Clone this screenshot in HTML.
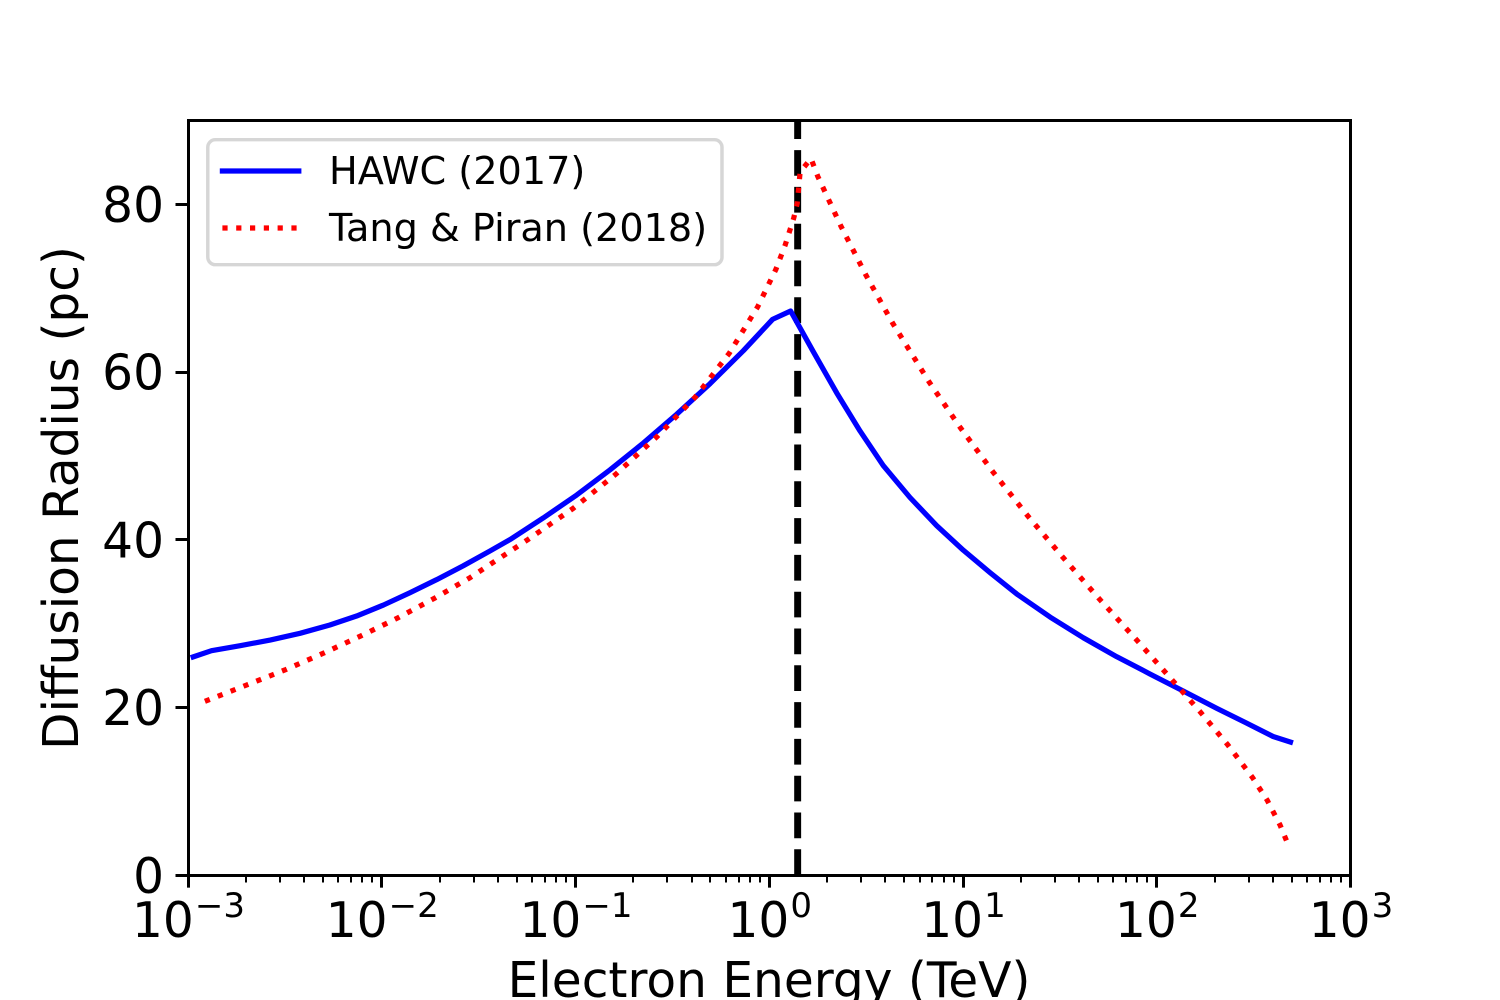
<!DOCTYPE html>
<html lang="en">
<head>
<meta charset="utf-8">
<title>Diffusion Radius vs Electron Energy</title>
<style>
  html, body { margin: 0; padding: 0; background: #fff; width: 1500px; height: 1000px; overflow: hidden; }
  svg { display: block; }
  text { font-family: "DejaVu Sans", "Liberation Sans", sans-serif; fill: #000; }
</style>
</head>
<body>
<svg id="chart" xmlns="http://www.w3.org/2000/svg" width="1500" height="1000" viewBox="0 0 1500 1000">
  <rect x="0" y="0" width="1500" height="1000" fill="#fff"/>
  <g id="marks"></g>
  <g id="axes"></g>
  <text x="769" y="997" font-size="48.6" text-anchor="middle">Electron Energy (TeV)</text>
  <text transform="translate(78 498) rotate(-90)" font-size="48.6" text-anchor="middle">Diffusion Radius (pc)</text>
  <g>
    <rect x="207.8" y="139.7" width="514.2" height="125" rx="7.6" ry="7.6" fill="#fff" fill-opacity="0.8" stroke="#d6d6d6" stroke-width="3.47"/>
    <line x1="222.4" y1="171" x2="298.8" y2="171" stroke="#0000ff" stroke-width="5.21" stroke-linecap="square"/>
    <text x="329" y="184" font-size="38.2">HAWC (2017)</text>
    <line x1="222.4" y1="228" x2="298.8" y2="228" stroke="#ff0000" stroke-width="5.21" stroke-dasharray="5.21 8.59"/>
    <text x="329" y="241" font-size="38.2">Tang &amp; Piran (2018)</text>
  </g>
</svg>
<script>
const hawcEnergy = [0.00107,0.00133,0.00187,0.00267,0.00381,0.00543,0.00746,0.01026,0.01406,0.01932,0.02649,0.03639,0.04624,0.06855,0.1021,0.1517,0.2254,0.335,0.4977,0.7396,1.047,1.297,1.698,2.244,2.958,3.899,5.358,7.362,10.09,13.87,19.05,28.31,41.98,62.52,92.9,138,205.1,287.1,400.9,493];
const hawcRadius = [26.0,26.74,27.33,28.01,28.81,29.8,30.87,32.18,33.65,35.21,36.86,38.62,39.99,42.56,45.3,48.3,51.5,54.93,58.57,62.5,66.24,67.23,62.38,57.46,52.93,48.81,45.0,41.64,38.72,36.05,33.5,30.75,28.29,26.02,23.96,21.93,19.87,18.2,16.51,15.85];
const tangEnergy = [0.00123,0.00202,0.00318,0.00502,0.00783,0.01216,0.01879,0.02871,0.05741,0.09795,0.1629,0.2649,0.4178,0.6252,0.877,1.089,1.216,1.346,1.403,1.452,1.652,1.79,2.36,3.177,4.375,6.745,9.75,14.42,21.68,33.11,51.05,79.25,122.5,169.4,232.8,313.3,374.1,435.5,473.2];
const tangRadius = [20.7,22.65,24.44,26.43,28.49,30.64,32.98,35.44,40.02,43.71,47.8,52.25,56.98,62.19,67.74,72.2,75.1,78.32,80.07,83.8,85.41,83.29,77.33,71.49,65.72,58.73,53.32,48,42.83,37.82,32.86,28.01,23.09,19.39,15.58,11.65,8.9,5.96,3.93];
const breakEnergy = [1.41];
const xDecadeExponents = [-3,-2,-1,0,1,2,3];
const xMinorMultipliers = [2,3,4,5,6,7,8,9];
const yTickValues = [0,20,40,60,80];
const xDomain = [-3,3];
const yDomain = [0,90];

const PLOT = { left: 187.5, right: 1350, top: 120, bottom: 875 };
const NS = 'http://www.w3.org/2000/svg';

function xScale(energy) {
  return PLOT.left + (Math.log10(energy) - xDomain[0]) / (xDomain[1] - xDomain[0]) * (PLOT.right - PLOT.left);
}
function yScale(value) {
  return PLOT.bottom - (value - yDomain[0]) / (yDomain[1] - yDomain[0]) * (PLOT.bottom - PLOT.top);
}
function snapOdd(v) { return Math.floor(v + 0.5) + 0.5; }
function snapEven(v) { return Math.floor(v + 0.5); }
function make(tag, attrs, parent) {
  const el = document.createElementNS(NS, tag);
  Object.keys(attrs).forEach(function (k) { el.setAttribute(k, attrs[k]); });
  parent.appendChild(el);
  return el;
}
function toPoints(xs, ys) {
  return xs.map(function (x, i) { return xScale(x).toFixed(2) + ',' + yScale(ys[i]).toFixed(2); }).join(' ');
}

const marks = document.getElementById('marks');
const axes = document.getElementById('axes');

const breakLine = make('line', { x1: xScale(breakEnergy[0]), x2: xScale(breakEnergy[0]), y1: PLOT.bottom, y2: PLOT.top, stroke: '#000', 'stroke-width': 6.94, 'stroke-dasharray': '25.7 11.1' }, marks);



const hawcLine = make('polyline', { points: toPoints(hawcEnergy, hawcRadius), fill: 'none', stroke: '#0000ff', 'stroke-width': 5.21, 'stroke-linecap': 'square', 'stroke-linejoin': 'round' }, marks);



const tangLine = make('polyline', { points: toPoints(tangEnergy, tangRadius), fill: 'none', stroke: '#ff0000', 'stroke-width': 5.21, 'stroke-dasharray': '5.21 8.59', 'stroke-linejoin': 'round' }, marks);



xDecadeExponents.forEach(function (exp, i) {
  const raw = xScale(Math.pow(10, exp));
  const px = snapOdd(raw);
  const tick = make('line', { x1: px, x2: px, y1: PLOT.bottom, y2: PLOT.bottom + 12.65, stroke: '#000', 'stroke-width': 3 }, axes);
  
  

  const label = make('text', { x: raw + 1, y: 937, 'font-size': 48.6, 'text-anchor': 'middle' }, axes);
  
  
  label.textContent = '10';
  const sup = make('tspan', { dx: 1, dy: -20, 'font-size': 34 }, label);
  sup.textContent = String(exp).replace('-', '\u2212');

  if (i < xDecadeExponents.length - 1) {
    xMinorMultipliers.forEach(function (m) {
      const mx = snapEven(xScale(m * Math.pow(10, exp)));
      const minor = make('line', { x1: mx, x2: mx, y1: PLOT.bottom, y2: PLOT.bottom + 7.5, stroke: '#000', 'stroke-width': 2 }, axes);
      
      
    });
  }
});

yTickValues.forEach(function (v) {
  const raw = yScale(v);
  const py = snapOdd(raw);
  const tick = make('line', { x1: PLOT.left + 0.5, x2: PLOT.left - 12, y1: py, y2: py, stroke: '#000', 'stroke-width': 3 }, axes);
  
  

  const label = make('text', { x: 164, y: raw + 18, 'font-size': 48.6, 'text-anchor': 'end' }, axes);
  
  
  label.textContent = String(v);
});

const frame = make('rect', { x: snapOdd(PLOT.left), y: snapOdd(PLOT.top), width: snapOdd(PLOT.right) - snapOdd(PLOT.left), height: snapOdd(PLOT.bottom) - snapOdd(PLOT.top), fill: 'none', stroke: '#000', 'stroke-width': 3 }, axes);


</script>
</body>
</html>
